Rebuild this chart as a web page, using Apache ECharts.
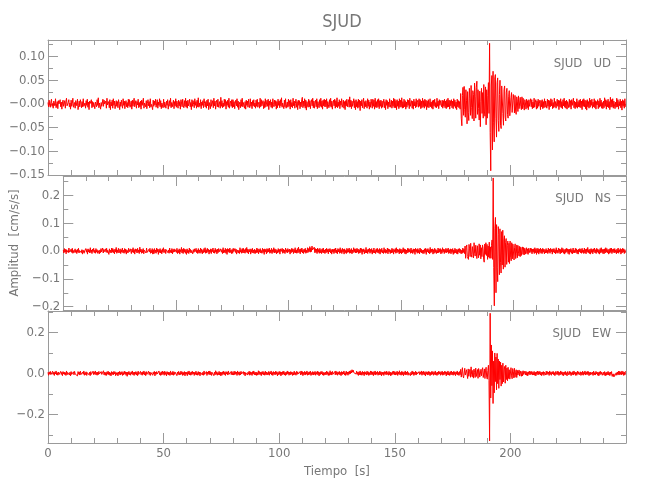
<!DOCTYPE html>
<html><head><meta charset="utf-8">
<script src="https://cdn.jsdelivr.net/npm/echarts@6/dist/echarts.min.js"></script>
<style>html,body{margin:0;padding:0;background:#fff}#c{width:650px;height:500px}</style>
</head><body><div id="c"></div>
<script>
// ---------------- DATA ----------------
const station = "SJUD";
const channels = ["UD", "NS", "EW"];
const sampleInterval = 0.25;     // seconds between samples
const timeMax = 250;             // s
const yTitle = "Amplitud  [cm/s/s]";
const xTitle = "Tiempo  [s]";

// Acceleration values, in 10^-3 cm/s/s; one line = 10 s (40 samples)
const udMilli = [
 3,-6,8,-2,-7,4,10,-5,1,-9,6,3,-4,11,-8,-2,5,-10,7,0, -3,9,-6,4,-11,2,8,-5,-1,7,-9,5,12,-4,-7,3,9,-6,2,-11,
 8,-5,1,12,-7,-2,3,-9,7,4,-4,10,-12,-3,6,-6,9,2,-8,5, -6,11,-5,-1,2,-9,7,-3,10,-7,4,-12,6,1,-3,9,-8,5,-6,3,
 7,-10,4,-1,-6,9,-3,13,-8,2,6,-11,3,-5,-7,10,-5,8,0,-4, 6,-9,12,-2,-6,5,-8,9,-12,4,-4,8,-9,11,-3,6,-10,-2,7,-5,
 5,-8,9,1,-12,4,-5,8,-2,-9,11,-3,6,-10,2,7,-6,3,-8,10, -4,9,-7,-1,6,-11,8,-5,4,12,-6,-3,7,-9,5,-2,10,-8,3,-6,
 6,-11,8,-3,-5,12,-9,2,4,-6,7,-10,1,9,-4,5,-8,11,-6,-1, 3,-12,8,-5,6,-2,10,-7,-4,9,-9,4,-3,11,-6,7,-10,2,5,-8,
 10,-7,4,-2,-9,6,-3,9,-11,1,7,-5,12,-8,3,-6,-2,8,-10,5, -4,11,-7,6,-1,-9,8,-4,5,-11,9,2,-6,10,-3,-8,7,-5,12,-7,
 6,-9,8,-4,1,10,-6,3,-12,9,-5,7,-1,-8,11,-3,5,-9,8,-6, 13,-7,2,-5,9,-10,4,-3,7,-8,11,1,-6,5,-9,8,-4,10,-12,3,
 4,-10,9,-5,-2,7,-8,12,-4,6,-11,3,8,-6,10,-7,-1,5,-9,14, -5,7,-8,2,-6,10,-4,9,-11,5,-3,8,-7,12,-9,1,6,-5,9,-8,
 9,-6,5,-10,2,8,-4,11,-7,6,-12,-1,4,-8,9,-5,12,-6,3,7, -9,5,-11,8,-3,6,-7,10,-2,-8,11,-5,4,-10,7,-4,9,-6,2,-9,
 8,-5,10,-7,-1,4,-9,12,-6,9,-4,2,7,-10,5,-8,11,-6,-2,8, -5,10,-12,6,-3,9,-7,4,-9,11,-1,-6,8,-4,7,-11,5,-8,10,-3,
 6,-8,9,-4,13,-7,2,5,-10,8,-6,11,-9,-2,4,-7,10,-5,7,-11, 9,-6,3,-8,12,-4,6,-9,1,10,-7,5,-12,8,-3,7,-10,4,-6,9,
 14,-8,6,-5,11,-9,8,-13,5,-2,-7,10,-6,7,-10,3,9,-4,12,-8, 6,-9,2,8,-6,11,-10,5,-3,-8,9,-5,12,-7,6,-11,8,-4,10,-6,
 8,-6,11,-10,5,-1,-8,9,-5,12,-7,6,-11,2,8,-4,10,-9,7,-6, 13,-8,4,-5,9,-10,6,-3,11,-7,-2,8,-9,5,-12,7,-4,10,-6,3,
 9,-7,15,-6,8,-10,6,-5,1,11,-8,7,-12,9,-6,5,-9,10,-7,8, -14,6,-4,9,-8,3,12,-10,5,-6,7,-2,-9,11,-5,8,-11,4,-7,10,
 6,-9,10,-5,8,-11,12,-7,5,-8,9,-6,11,-10,7,-5,8,-9,6,-7, 2,10,-8,5,-12,9,-3,7,-10,4,-6,11,-7,-1,8,-9,6,-5,12,-8,
 10,-8,7,-12,9,-5,6,-10,11,-7,8,-6,13,-9,5,-8,10,-6,7,-11, 4,-7,9,-3,8,-10,12,-5,-2,7,-9,6,-11,10,-4,5,-8,11,-6,3,
 8,-7,11,-5,9,-10,6,-8,12,-6,7,-9,10,-5,8,-12,6,-7,9,-8, -2,11,-6,4,-9,7,-11,8,-4,10,-7,3,-8,12,-5,6,-10,9,-3,7,
 11,-6,8,-9,7,-5,10,-8,6,-10,9,-7,12,-6,8,-11,7,-4,9,-8, 6,-10,11,-5,8,-9,4,-12,10,-6,7,-8,5,-11,22,-30,-46,18,35,-24,
 37,-12,-28,30,8,-42,26,-18,-35,33,12,-24,39,-8,-31,28,20,-36,44,15, -30,35,48,-22,30,-10,-34,27,-48,5,33,-20,24,-30,41,-15,-26,36,-44,30,
 -30,18,45,-20,128,-60,-141,40,60,-97,69,-40,-80,55,62,-30,-70,45,55,-35, -58,20,50,-45,-52,38,42,-20,-45,30,38,-28,-36,25,33,-22,-30,15,28,-25,
 -25,14,24,-18,-22,20,8,-19,18,-15,-22,15,6,-16,17,-10,-13,14,-5,-12, 15,-10,12,-4,-13,9,2,-11,10,-8,7,-12,9,-5,-8,11,-6,9,-10,4,
 -8,12,-7,3,9,-11,6,-9,10,-5,1,8,-12,7,-6,9,-10,5,-8,11, -7,6,-2,-9,10,-5,8,-12,7,-6,11,-4,9,-10,3,-8,12,-6,5,-9,
 -9,10,-5,8,-12,7,-6,11,-8,5,-10,9,-4,12,-7,6,-9,8,-11,5, 2,-8,10,-6,7,-11,9,-3,-5,12,-8,6,-10,4,-7,11,-9,5,-6,8,
 -7,10,-8,6,-12,9,-5,11,-6,8,-10,7,-13,9,-6,5,-9,12,-7,8, -3,10,-9,4,-6,11,-8,7,-11,5,-2,9,-10,6,-7,12,-5,8,-9,3,
 -10,6,-8,13,-5,9,-11,7,-6,10,-8,5,-12,14,-7,9,-6,11,-9,6, 8,-10,4,-7,12,-6,9,-11,5,-4,10,-8,6,-13,9,-5,7,-9,11,-6
];
const nsMilli = [
 4,-7,9,-3,6,-10,5,-2,8,-6,11,-4,3,-9,7,-5,10,-8,2,-6, -1,8,-5,3,-9,6,-4,10,-7,2,-3,9,-6,5,-11,4,7,-8,1,-5,
 9,-4,6,-11,8,-3,5,-7,12,-5,4,-9,7,-2,10,-6,3,-8,9,-4, 5,-8,2,7,-10,4,-6,9,-3,-5,11,-7,6,-2,-9,8,-4,10,-6,3,
 6,-12,8,-5,3,-7,11,-4,9,-6,5,-10,7,-3,13,-8,4,-5,10,-7, -2,8,-9,5,-4,11,-6,3,-8,9,-5,7,-11,4,6,-7,10,-3,-6,8,
 3,-9,7,-4,12,-6,5,-11,8,-2,6,-7,10,-5,4,-9,14,-3,7,-8, 5,-6,9,-10,3,-4,8,-7,11,-5,2,-9,6,-3,10,-8,4,-6,9,-11,
 5,-10,9,-6,4,-8,11,-3,7,-12,6,-5,9,-7,3,-10,8,-4,12,-6, -3,7,-9,5,-2,10,-6,4,-8,11,-5,3,-7,9,-10,6,-4,8,-3,5,
 7,-5,10,-9,4,-6,8,-11,5,-3,13,-7,6,-9,10,-4,7,-8,5,-12, 8,-6,3,-9,11,-4,6,-7,2,9,-10,5,-5,8,-3,-7,10,-6,4,-9,
 9,-6,4,-8,11,-5,7,-10,3,-6,9,-4,12,-8,5,-7,10,-3,6,-11, 4,-5,8,-9,6,-2,11,-7,3,-8,10,-4,5,-10,7,-6,9,-3,-5,8,
 8,-4,6,-9,12,-7,4,-5,10,-8,6,-12,9,-3,7,-6,11,-5,4,-9, 6,-8,10,-2,-6,9,-5,7,-11,4,8,-7,3,-9,12,-4,5,-8,9,-6,
 10,-7,5,-8,9,-4,13,-6,7,-10,5,-3,8,-11,6,-5,10,-7,4,-8, 7,-9,3,-6,11,-5,8,-10,6,-4,9,-7,2,-8,10,-5,6,-12,8,-3,
 6,-10,9,-5,7,-3,11,-8,4,-6,10,-9,5,-4,12,-7,8,-5,6,-10, 3,-7,9,-4,6,-11,8,-2,-5,10,-8,7,-6,4,-9,11,-3,5,-7,9,
 9,-4,7,-11,5,-6,10,-3,8,-9,6,-5,12,-7,4,-8,9,-6,14,-5, 6,-10,8,-3,11,-7,5,-9,7,-4,10,-8,3,-6,12,-5,9,-2,16,-4,
 12,-2,18,4,10,-3,14,-6,9,-5,7,-9,11,-4,6,-8,10,-6,5,-9, 8,-5,11,-7,4,-9,7,-6,10,-4,6,-10,8,-3,9,-7,5,-11,7,-4,
 6,-9,8,-5,11,-7,4,-10,9,-3,7,-8,12,-6,5,-9,10,-4,6,-11, 8,-6,3,-9,10,-5,7,-4,11,-8,5,-7,9,-10,4,-6,12,-3,8,-7,
 8,-6,10,-4,7,-9,5,-7,11,-5,9,-12,6,-3,8,-10,4,-6,13,-7, 5,-9,7,-3,10,-8,6,-5,9,-11,4,-6,11,-7,3,-9,8,-4,10,-6,
 5,-8,9,-11,6,-4,10,-7,3,-9,12,-5,7,-8,4,-6,11,-10,8,-3, 6,-9,4,-7,10,-5,8,-11,5,-3,9,-8,12,-6,7,-4,5,-10,9,-7,
 7,-10,5,-6,12,-4,8,-9,6,-11,4,-7,10,-5,9,-3,6,-8,11,-6, 4,-9,8,-5,7,-12,10,-3,6,-8,9,-6,5,-10,11,-4,7,-7,3,-9,
 4,-9,8,-5,10,-12,6,-3,9,-7,5,-10,13,-6,7,-4,8,-11,5,-8, 10,-5,6,-9,3,-7,11,-6,8,-4,9,-10,5,-8,12,-3,7,-9,6,-5,
 10,-6,7,-4,11,-9,5,-7,8,-10,6,-5,9,-12,4,-8,10,-6,7,-9, 5,-11,8,-4,9,-7,6,-10,3,-8,11,-5,7,-9,18,-26,12,22,-20,-14,
 -30,24,8,-20,28,-12,-22,16,20,-25,30,-8,-18,21,14,-27,19,-10,-24,26, -15,22,-28,12,-20,22,10,-29,-40,25,-12,30,-16,24,-30,18,-22,32,-26,15,
 -26,20,40,-30,263,-60,-197,80,121,-150,95,-60,-110,88,60,-85,80,-40,-79,70, -50,75,-65,40,55,-58,30,45,-48,20,36,-40,28,-45,36,-22,-35,30,-28,25,
 30,-32,12,26,-27,-10,22,-24,20,-8,-18,17,-20,14,-16,6,15,-12,13,-14, 10,-11,4,12,-9,8,-12,10,-6,-8,11,-5,9,-10,7,-4,8,-9,12,-6,
 8,-12,10,-6,9,-11,7,-5,11,-8,6,-9,10,-4,7,-10,5,-7,9,-6, 4,-9,11,-5,7,-8,10,-3,6,-11,8,-4,9,-7,5,-10,12,-6,3,-8,
 11,-5,8,-10,6,-7,12,-4,9,-8,5,-11,7,-6,10,-3,8,-9,6,-12, 7,-4,9,-8,5,-10,11,-6,3,-7,10,-5,8,-9,4,-11,7,-3,9,-6,
 7,-8,10,-5,4,-9,11,-7,6,-10,8,-4,13,-6,5,-9,7,-11,9,-5, 6,-10,8,-3,11,-7,5,-9,10,-4,7,-8,4,-11,9,-6,12,-5,6,-9,
 6,-10,8,-7,12,-4,9,-6,5,-11,7,-8,10,-5,11,-9,6,-4,8,-7, 9,-5,4,-10,7,-6,11,-8,5,-3,9,-11,6,-7,10,-4,8,-9,5,-6
];
const ewMilli = [
 5,-9,7,-4,10,-6,3,-8,11,-5,6,-10,8,-3,12,-7,4,-9,7,-6, 2,-8,10,-5,6,-11,9,-3,7,-6,4,-10,12,-7,5,-4,9,-8,6,-12,
 9,-5,4,-11,8,-7,10,-3,6,-9,5,-12,9,-4,7,-8,11,-6,3,-10, 7,-4,12,-9,5,-6,8,-10,4,-3,10,-7,6,-11,9,-5,3,-8,11,-6,
 8,-4,12,-7,5,-9,7,-6,10,-3,6,-11,9,-5,4,-8,13,-7,6,-9, 5,-10,8,-4,11,-6,7,-9,3,-12,9,-5,6,-7,10,-3,8,-11,4,-6,
 4,-12,7,-5,10,-8,6,-4,9,-10,5,-7,11,-3,8,-9,6,-14,7,-5, 10,-6,4,-9,8,-3,12,-7,5,-10,7,-4,9,-8,6,-11,11,-5,3,-9,
 10,-6,5,-9,8,-4,12,-7,6,-11,9,-5,4,-8,11,-6,7,-10,5,-3, 8,-9,6,-4,10,-12,7,-5,9,-3,5,-8,12,-6,4,-10,8,-7,11,-4,
 8,-9,11,-5,6,-12,9,-4,7,-8,5,-10,12,-6,4,-7,10,-9,8,-5, 6,-3,9,-11,7,-5,10,-8,4,-6,11,-4,8,-10,5,-7,9,-12,6,-4,
 6,-11,9,-4,12,-7,5,-9,8,-6,10,-3,7,-10,6,-5,11,-8,4,-9, 9,-6,7,-12,5,-4,10,-8,6,-9,12,-5,3,-7,9,-10,7,-4,11,-6,
 12,-6,7,-10,5,-4,9,-11,6,-7,13,-5,8,-9,4,-6,10,-8,7,-12, 5,-9,8,-4,11,-6,6,-10,9,-3,7,-8,12,-5,4,-11,8,-6,10,-7,
 5,-8,11,-6,9,-4,7,-10,12,-5,6,-9,8,-7,10,-3,5,-11,9,-6, 7,-12,4,-5,10,-8,6,-4,11,-9,8,-6,5,-10,9,-3,12,-7,6,-8,
 7,-10,4,-8,13,-5,9,-6,6,-11,8,-4,10,-7,5,-9,11,-6,7,-8, 4,-6,10,-9,7,-3,12,-8,5,-10,9,-5,6,-7,11,-4,8,-12,5,-6,
 10,-5,8,-12,6,-7,9,-4,11,-8,5,-10,7,-6,12,-3,8,-9,6,-7, 9,-4,7,-10,5,-8,11,-6,4,-9,10,-5,8,-3,6,-11,9,-7,12,-5,
 9,-11,5,-6,10,-8,7,-4,12,-9,6,-7,8,-5,11,-10,4,-6,9,-8, 7,-5,10,-9,6,-4,11,-7,8,-12,5,-6,9,-3,10,-8,6,-10,4,-7,
 6,-7,11,-5,8,-10,4,-9,13,-6,7,-8,10,-4,5,-11,9,-7,12,-5, 8,-9,6,-4,10,-7,5,-11,9,-6,7,-3,12,-8,4,-10,11,-5,7,-9,
 8,-4,12,-2,14,2,18,6,16,4,12,-1,9,-3,11,-5,6,-10,8,-6, 12,-8,5,-9,10,-6,7,-11,9,-4,6,-8,11,-5,8,-10,4,-7,12,-6,
 10,-6,7,-11,9,-5,12,-8,6,-4,10,-9,5,-7,11,-6,8,-12,7,-5, 6,-10,9,-4,8,-7,11,-5,5,-9,10,-6,7,-12,4,-8,9,-3,11,-7,
 9,-8,6,-5,11,-10,7,-4,13,-7,5,-9,10,-6,8,-11,6,-5,12,-8, 7,-6,10,-9,4,-5,9,-11,6,-7,12,-4,8,-10,5,-6,11,-8,7,-3,
 5,-10,9,-6,7,-4,12,-9,8,-5,11,-7,6,-12,9,-4,7,-8,10,-6, 8,-11,5,-7,10,-4,9,-9,6,-5,12,-8,4,-10,7,-6,11,-3,8,-9,
 8,-5,11,-9,6,-7,10,-4,9,-12,7,-6,12,-8,5,-10,9,-6,11,-7, 6,-9,10,-5,8,-11,7,-4,12,-8,5,-10,9,-6,20,-18,8,28,-12,-22,
 -22,25,-8,-16,18,10,-25,22,-14,8,20,-19,32,-6,-17,15,-23,21,4,-20, 26,-15,-10,19,-24,24,12,-18,-26,20,-12,18,28,-20,-14,22,-25,16,30,-18,
 -28,15,40,-35,-330,294,-120,139,-60,110,-147,60,-95,100,-40,80,-80,98,-50,70, -73,60,-30,55,-62,40,-50,50,-42,20,34,-48,40,-30,26,-36,30,-25,18,-28,
 -30,28,-12,-26,24,10,-22,25,-19,6,18,-20,15,-8,-16,17,-13,12,4,-14, 10,-12,13,-5,-9,11,-7,10,-9,6,-12,8,-5,11,-7,9,-4,10,-8,6,
 -7,10,-9,6,-12,8,-5,11,-7,9,-4,10,-8,6,-11,7,-5,9,-10,6, 5,-8,11,-6,9,-4,7,-10,12,-5,6,-9,8,-3,10,-7,4,-11,9,-6,
 -8,11,-6,9,-10,5,-7,12,-4,8,-9,6,-11,7,-5,10,-8,4,-12,9, 6,-7,10,-5,8,-11,4,-6,9,-8,12,-4,7,-10,5,-9,11,-3,8,-7,
 -6,8,-10,5,-7,11,-9,6,-4,12,-8,7,-5,10,-6,9,-11,5,-8,7, 9,-5,6,-10,11,-7,4,-8,10,-3,7,-9,5,-12,8,-6,10,-4,6,-9,
 -10,6,-8,9,-12,4,-9,7,-6,10,-8,5,-11,7,-5,9,-14,-4,-16,-2, -15,-6,-12,3,-9,7,-6,11,-8,10,-5,8,-7,12,-4,9,-10,6,-8,11
];

// axis ranges (cm/s/s)
const yRanges = [[-0.15, 0.135], [-0.212, 0.27], [-0.34, 0.305]];
// tick values and labels
const udTicks = [-0.15, -0.10, -0.05, 0, 0.05, 0.10];
const udTickLabels = ["\u22120.15", "\u22120.10", "\u22120.05", "\u22120.00", "0.05", "0.10"];
const udMinor = [-0.125, -0.075, -0.025, 0.025, 0.075, 0.125];
const nsTicks = [-0.2, -0.1, 0, 0.1, 0.2];
const nsTickLabels = ["\u22120.2", "\u22120.1", "0.0", "0.1", "0.2"];
const nsMinor = [-0.15, -0.05, 0.05, 0.15, 0.25];
const ewTicks = [-0.2, 0, 0.2];
const ewTickLabels = ["\u22120.2", "0.0", "0.2"];
const ewMinor = [-0.3, -0.1, 0.1, 0.3];
const xTickStep = 50;
const xMinorSplit = 5;

// ---------------- CHART ----------------
const FONT = '"Liberation Sans Narrow","DejaVu Sans Condensed","Roboto Condensed",sans-serif';
const AX = '#9a9a9a';
const TXT = '#777777';

const traces = [udMilli, nsMilli, ewMilli];
const ticks = [udTicks, nsTicks, ewTicks];
const tickLabels = [udTickLabels, nsTickLabels, ewTickLabels];
const minors = [udMinor, nsMinor, ewMinor];

const grids = [
  {left: 48, right: 24, top: 40, height: 135},
  {left: 48, right: 24, top: 176, height: 134},
  {left: 48, right: 24, top: 311, height: 132}
];

function labelFor(i, v) {
  const t = ticks[i];
  for (let k = 0; k < t.length; k++) if (Math.abs(t[k] - v) < 1e-6) return tickLabels[i][k];
  return '';
}

const xAxis = [], yAxis = [], series = [];
grids.forEach((g, i) => {
  ['bottom', 'top'].forEach(pos => {
    const withLabels = (i === 2 && pos === 'bottom');
    const ax = {
      type: 'value', gridIndex: i, position: pos, min: 0, max: timeMax, interval: xTickStep,
      axisLine: {show: true, onZero: false, lineStyle: {color: AX, width: 1}},
      axisTick: {show: true, inside: true, length: 10, lineStyle: {color: AX}},
      minorTick: {show: true, splitNumber: xMinorSplit, length: 5, lineStyle: {color: AX}},
      axisLabel: {show: withLabels, showMaxLabel: false, margin: 4, fontFamily: FONT, fontSize: 13, color: TXT},
      splitLine: {show: false}, minorSplitLine: {show: false}
    };
    if (withLabels) {
      ax.name = xTitle; ax.nameLocation = 'middle'; ax.nameGap = 22;
      ax.nameTextStyle = {fontFamily: FONT, fontSize: 13, color: TXT};
    }
    xAxis.push(ax);
  });
  const r = yRanges[i];
  const mk = (pos, tv, len, withLabels, withLine) => {
    const ax = {
      type: 'value', gridIndex: i, position: pos, min: r[0], max: r[1],
      axisLine: {show: withLine, onZero: false, lineStyle: {color: AX, width: 1}},
      axisTick: {show: true, inside: true, length: len, customValues: tv, lineStyle: {color: AX}},
      axisLabel: {show: withLabels, customValues: ticks[i], margin: 3, fontFamily: FONT, fontSize: 13, color: TXT,
                  formatter: v => labelFor(i, v)},
      splitLine: {show: false}
    };
    if (withLabels && i === 1) {
      ax.name = yTitle; ax.nameLocation = 'middle'; ax.nameGap = 30;
      ax.nameTextStyle = {fontFamily: FONT, fontSize: 13, color: TXT};
    }
    return ax;
  };
  yAxis.push(mk('left', ticks[i], 10, true, true));
  yAxis.push(mk('left', minors[i], 5, false, false));
  yAxis.push(mk('right', ticks[i], 10, false, true));
  yAxis.push(mk('right', minors[i], 5, false, false));

  series.push({
    type: 'line', xAxisIndex: i * 2, yAxisIndex: i * 4,
    data: traces[i].map((v, k) => [k * sampleInterval, v / 1000]),
    showSymbol: false, symbol: 'none', silent: true,
    lineStyle: {color: '#ff0000', width: 1}, clip: false
  });
});

const titles = [{
  text: station, left: 337, top: 8, textAlign: 'center',
  textStyle: {fontFamily: FONT, fontSize: 18, fontWeight: 'normal', color: TXT}
}];
const labelTops = [52, 187, 322];
channels.forEach((c, i) => {
  titles.push({
    text: station + '   ' + c, right: 34, top: labelTops[i],
    textStyle: {fontFamily: FONT, fontSize: 13, fontWeight: 'normal', color: TXT}
  });
});

const chart = echarts.init(document.getElementById('c'), null, {renderer: 'canvas'});
chart.setOption({
  animation: false,
  backgroundColor: '#ffffff',
  title: titles,
  grid: grids,
  xAxis: xAxis,
  yAxis: yAxis,
  series: series
});
</script>
</body></html>
